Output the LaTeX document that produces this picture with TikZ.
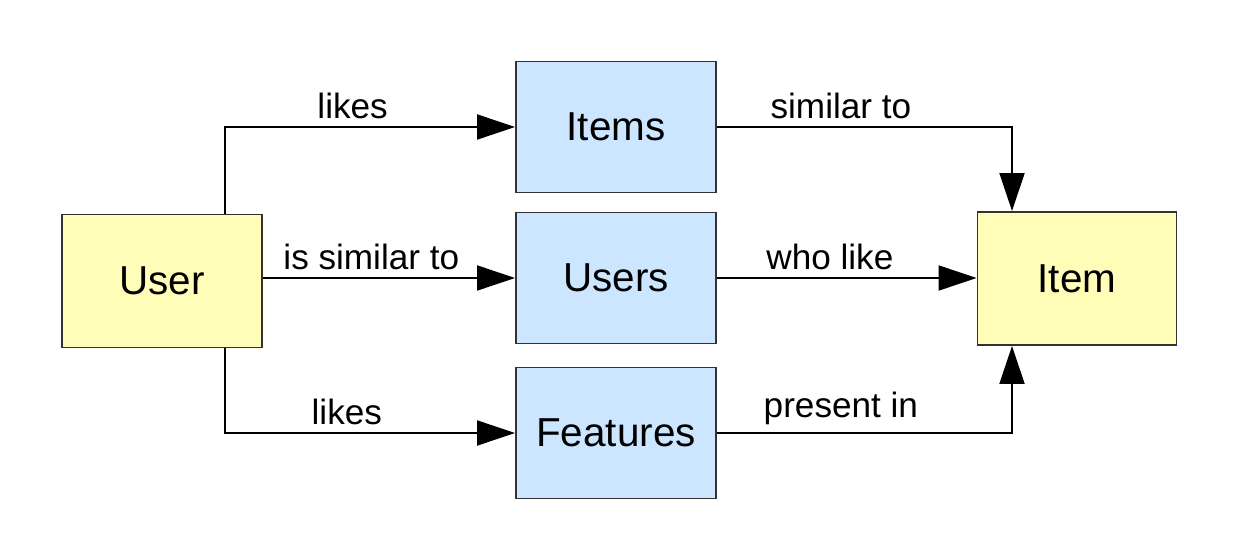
\documentclass[tikz,border=0pt]{standalone}
\usepackage{fontspec}
\setmainfont{Liberation Sans}
\usepackage{tikz}
\usetikzlibrary{arrows.meta,calc,positioning}
\usepackage{xcolor}
\definecolor{boxyellow}{HTML}{FFFDB8}
\definecolor{boxblue}{HTML}{CCE6FF}
\definecolor{boxedge}{HTML}{333333}

\begin{document}
\begin{tikzpicture}[
    every node/.style={font=\fontsize{20}{24}\selectfont},
    thing/.style={draw=boxedge, line width=1.1pt, minimum width=4cm, minimum height=2.62cm,
      inner sep=0pt, font=\fontsize{23}{27}\selectfont},
    endbox/.style={thing, fill=boxyellow},
    midbox/.style={thing, fill=boxblue},
    rel/.style={line width=1.1pt, -{Triangle[length=0.76cm,width=0.5cm]}}
  ]
  \useasboundingbox (0,0) rectangle (25.04,10.88);
  % boxes
  \node[endbox, minimum height=2.66cm] (user) at (3.24,5.26) {User};
  \node[midbox] (items) at (12.32,8.34) {Items};
  \node[midbox] (users) at (12.32,5.32) {Users};
  \node[midbox] (features) at (12.32,2.22) {Features};
  \node[endbox, minimum width=3.98cm, minimum height=2.66cm] (item) at (21.54,5.31) {Item};
  % bend points
  \coordinate (usertop) at ($(user.north)+(1.26,0)$);
  \coordinate (userbot) at ($(user.south)+(1.26,0)$);
  \coordinate (itemtop) at ($(item.north)+(-1.3,0)$);
  \coordinate (itembot) at ($(item.south)+(-1.3,0)$);
  % relations
  \draw[rel] (usertop) |- node[pos=0.72, above=1pt] {likes} (items.west);
  \draw[rel] (user.east |- users.west) -- node[pos=0.43, above=1pt] {is similar to} (users.west);
  \draw[rel] (userbot) |- node[pos=0.71, above=1pt] {likes} (features.west);
  \draw[rel] (items.east) -| node[pos=0.21, above=1pt] {similar to} (itemtop);
  \draw[rel] (users.east) -- node[pos=0.435, above=1pt] {who like} (users.east -| item.west);
  \draw[rel] (features.east) -| node[pos=0.21, above=1pt] {present in} (itembot);
\end{tikzpicture}
\end{document}
